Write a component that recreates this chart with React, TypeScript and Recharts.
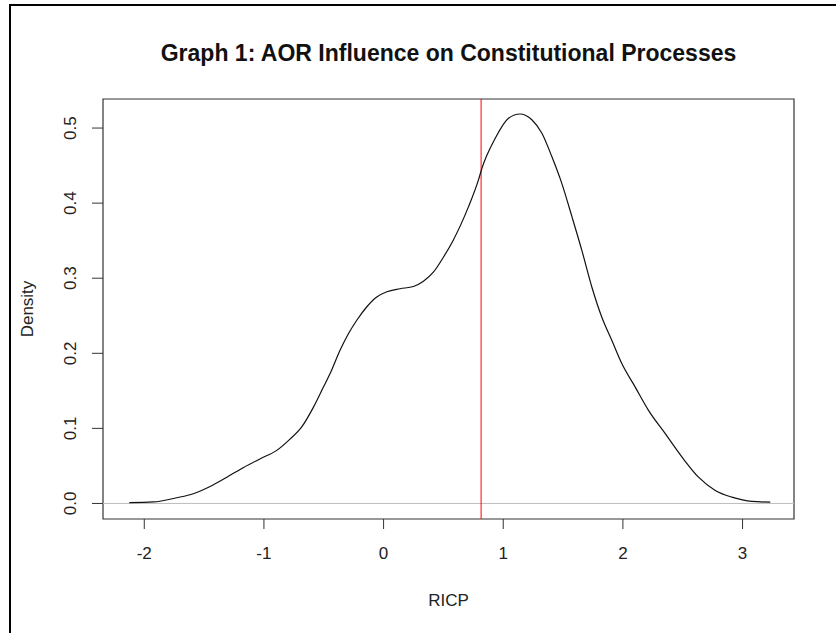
import { LineChart, Line, XAxis, YAxis, ReferenceLine, ReferenceArea, Label } from "recharts"

const ricp = [
  -2.125, -1.925, -1.73, -1.59, -1.45, -1.31, -1.17, -1.03, -0.893, -0.78, -0.684, -0.587, -0.503, -0.447,
  -0.364, -0.294, -0.224, -0.14, -0.057, 0.027, 0.138, 0.249, 0.333, 0.416, 0.5, 0.58, 0.709,
  0.793, 0.821, 0.932, 1.044, 1.141, 1.239, 1.323, 1.406, 1.49, 1.574, 1.657, 1.741, 1.824, 1.908, 1.992,
  2.103, 2.214, 2.354, 2.493, 2.632, 2.772, 2.911, 3.078, 3.232,
]
const density = [
  0.001, 0.002, 0.0076, 0.013, 0.0227, 0.035, 0.048, 0.0596, 0.0707, 0.086, 0.102, 0.128, 0.155, 0.173,
  0.204, 0.226, 0.244, 0.262, 0.275, 0.282, 0.286, 0.289, 0.296, 0.308, 0.328, 0.35, 0.395,
  0.431, 0.446, 0.486, 0.513, 0.5187, 0.511, 0.493, 0.462, 0.426, 0.382, 0.337, 0.288, 0.248, 0.217, 0.186,
  0.155, 0.124, 0.093, 0.062, 0.035, 0.0173, 0.0084, 0.0027, 0.0017,
]
const xTicks = [-2, -1, 0, 1, 2, 3]
const yTicks = [0, 0.1, 0.2, 0.3, 0.4, 0.5]
const meanLine = 0.815

const xDomain = [-2.345, 3.43]
const yDomain = [-0.0207, 0.5387]

const data = ricp.map((x, i) => ({ x, y: density[i] }))

const font = "'Liberation Sans', Arial, sans-serif"

function YTick(props: any) {
  const { x, y, payload } = props
  const tx = x - 14
  return (
    <text x={tx} y={y} transform={`rotate(-90, ${tx}, ${y})`} textAnchor="middle" fontSize={17} fill="#222" fontFamily={font}>
      {payload.value.toFixed(1)}
    </text>
  )
}

export default function App() {
  return (
    <div style={{ position: "absolute", left: 0, top: 0, width: 836, height: 633, background: "#fff" }}>
      <div
        style={{
          position: "absolute",
          left: 9,
          top: 4,
          width: 827,
          height: 629,
          borderTop: "2px solid #000",
          borderLeft: "2px solid #000",
          boxSizing: "border-box",
        }}
      />
      <div
        style={{
          position: "absolute",
          left: 103,
          width: 691,
          top: 40,
          textAlign: "center",
          fontFamily: font,
          fontWeight: "bold",
          fontSize: 23,
          color: "#111",
        }}
      >
        Graph 1: AOR Influence on Constitutional Processes
      </div>
      <LineChart width={836} height={633} data={data} margin={{ top: 99, right: 42, bottom: 0, left: 0 }}>
        <XAxis
          dataKey="x"
          type="number"
          domain={xDomain}
          ticks={xTicks}
          allowDataOverflow
          axisLine={false}
          tickSize={10}
          tickMargin={18}
          height={114}
          tick={{ fontSize: 17, fill: "#222", fontFamily: font }}
          tickLine={{ stroke: "#333" }}
        >
          <Label value="RICP" position="insideBottom" offset={27} fontSize={17} fill="#222" fontFamily={font} />
        </XAxis>
        <YAxis
          type="number"
          domain={yDomain}
          ticks={yTicks}
          allowDataOverflow
          axisLine={false}
          tickSize={11}
          tickMargin={2}
          width={103}
          tick={<YTick />}
          tickLine={{ stroke: "#333" }}
        >
          <Label
            content={(p: any) => {
              const vb = p.viewBox
              const cx = vb.x + 33
              const cy = vb.y + vb.height / 2
              return (
                <text x={cx} y={cy} transform={`rotate(-90, ${cx}, ${cy})`} textAnchor="middle" fontSize={17} fill="#222" fontFamily={font}>
                  Density
                </text>
              )
            }}
          />
        </YAxis>
        <ReferenceArea x1={xDomain[0]} x2={xDomain[1]} y1={yDomain[0]} y2={yDomain[1]} fill="none" stroke="#333" strokeWidth={1.2} />
        <ReferenceLine y={0} stroke="#bebebe" />
        <ReferenceLine x={meanLine} stroke="#ff0000" />
        <Line type="monotone" dataKey="y" stroke="#111" strokeWidth={1.2} dot={false} isAnimationActive={false} />
      </LineChart>
    </div>
  )
}
